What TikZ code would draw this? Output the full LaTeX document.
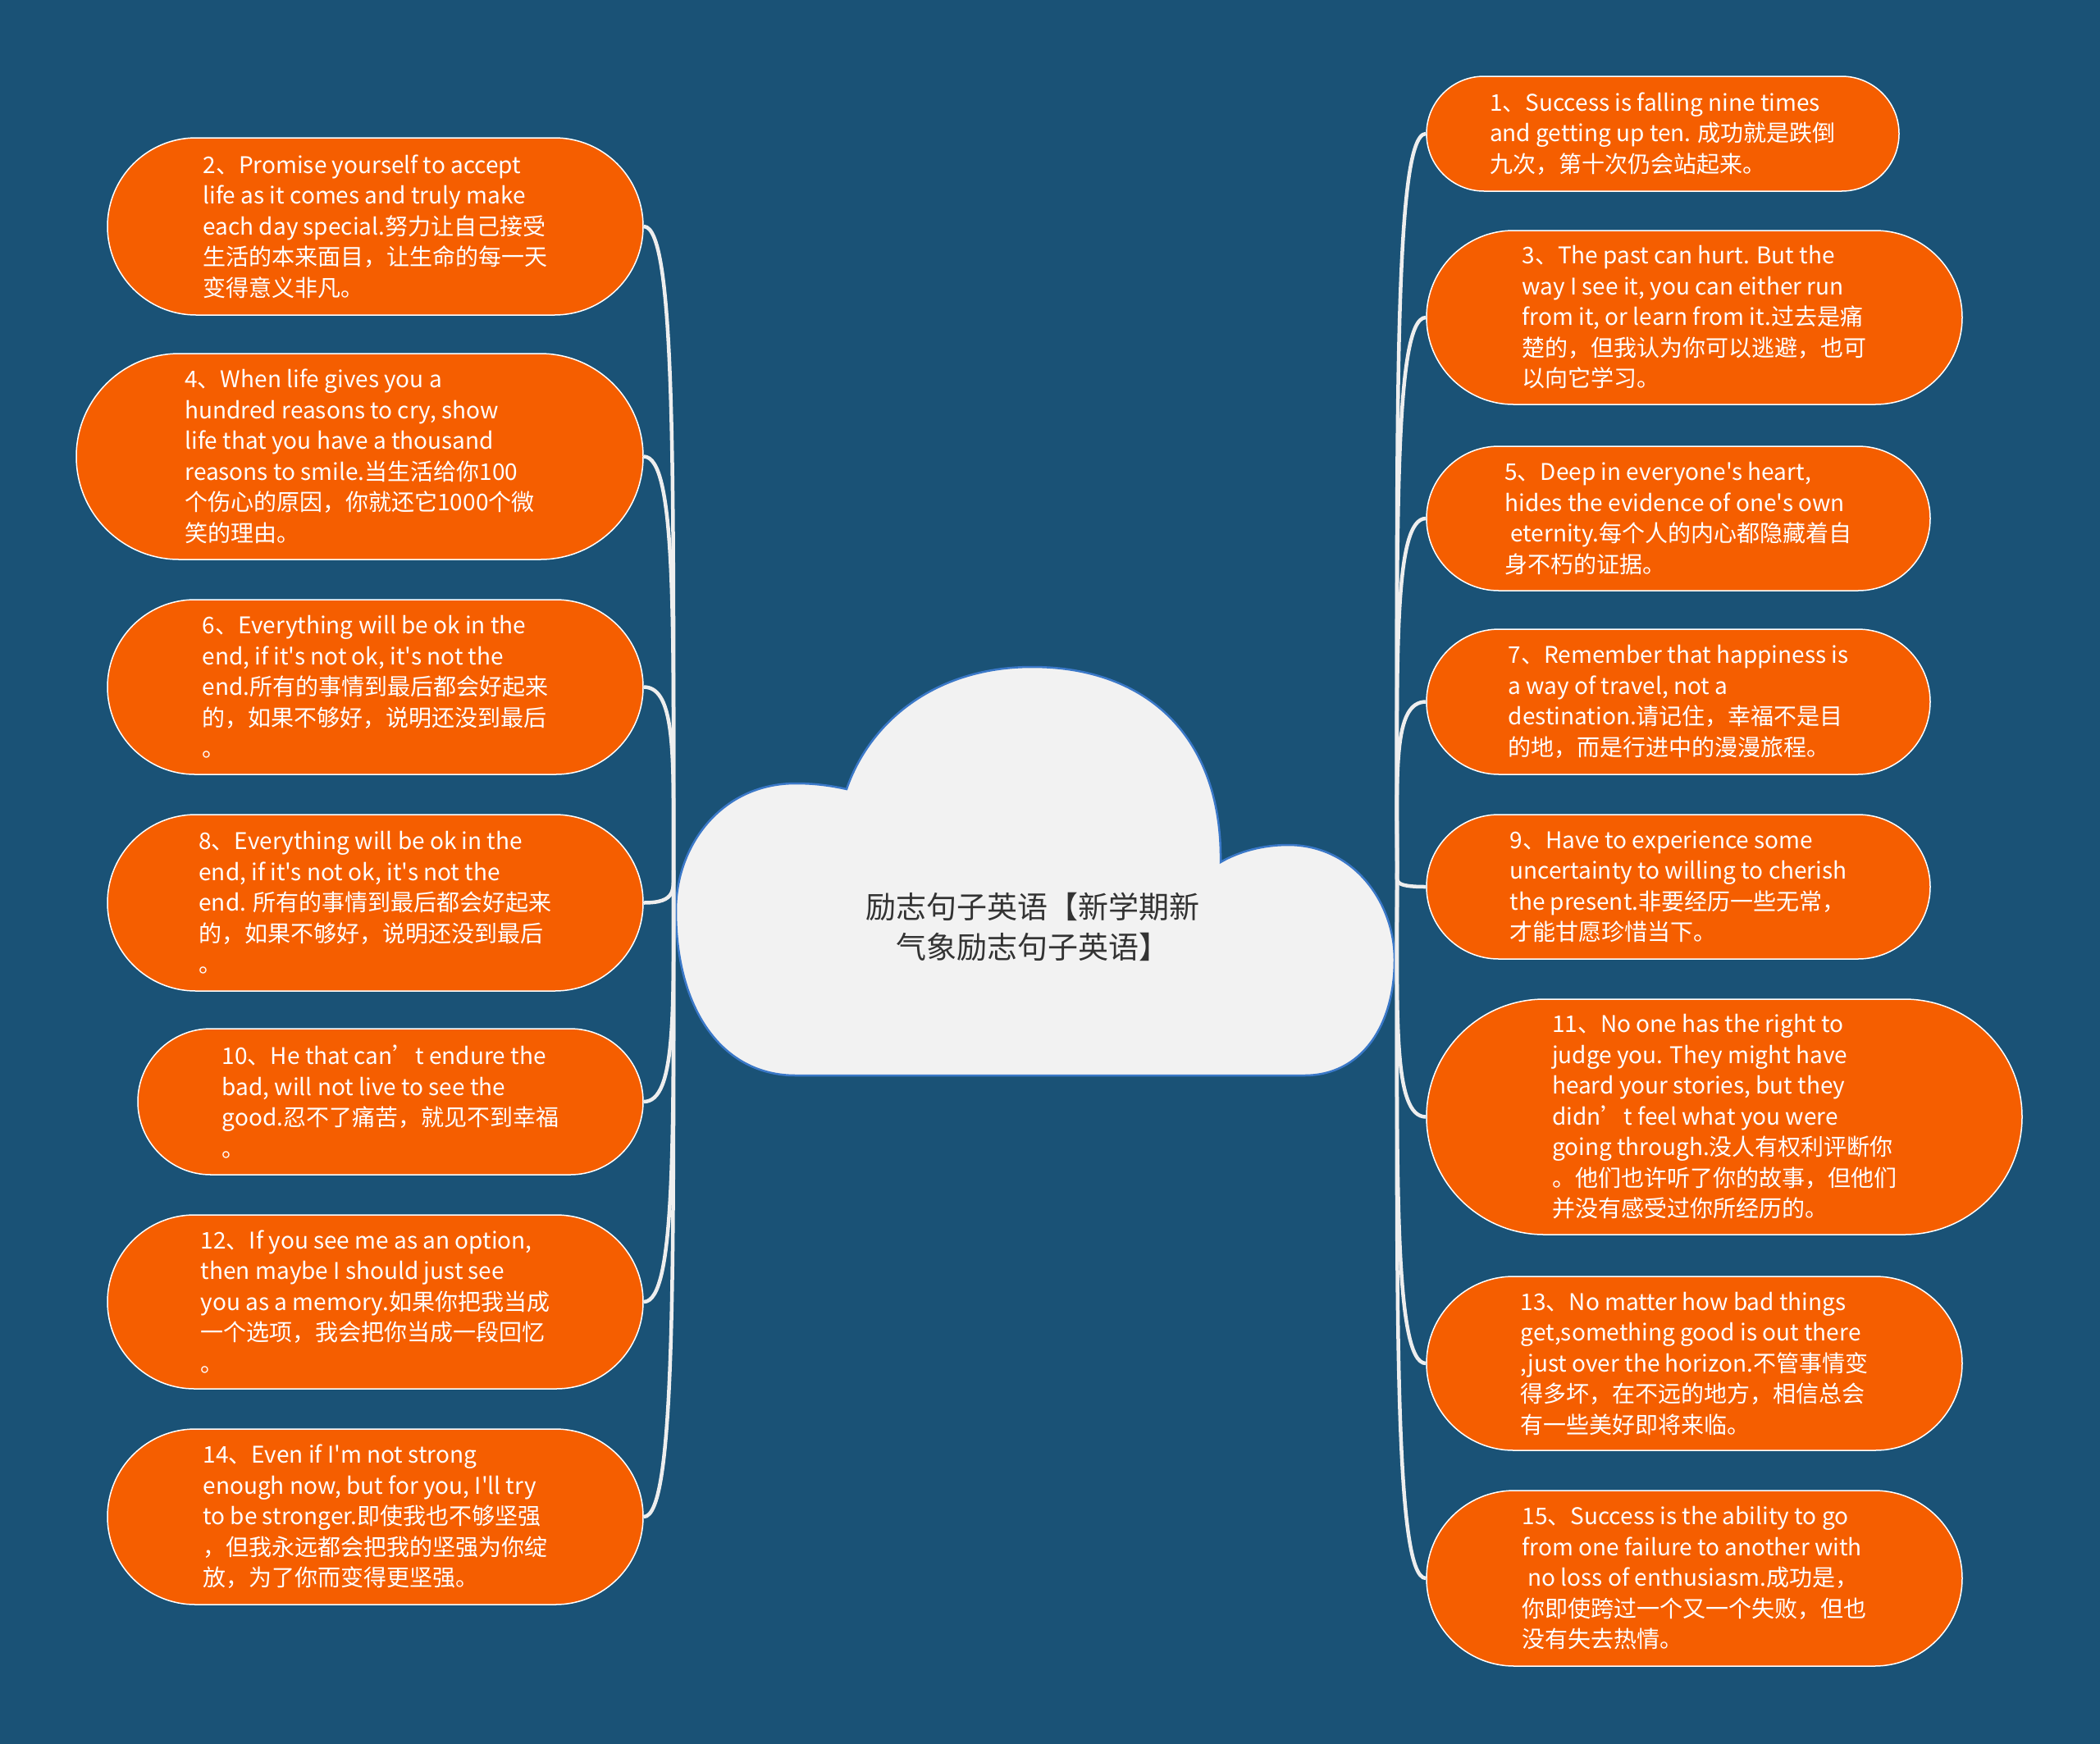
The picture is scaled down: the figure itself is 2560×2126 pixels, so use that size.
\documentclass[tikz,border=0pt]{standalone}
\usepackage{fontspec}
\setmainfont{Noto Sans CJK SC}[Ligatures=TeXOff]
\usepackage{tikz}
\usetikzlibrary{calc}
\definecolor{bg}{HTML}{1A5276}
\definecolor{leaf}{HTML}{F55E00}
\definecolor{cloud}{HTML}{F2F2F2}
\definecolor{rim}{HTML}{3A78C8}
\definecolor{link}{HTML}{EEEEEE}
\definecolor{ink}{HTML}{333333}

\begin{document}
\begin{tikzpicture}[x=1pt,y=-1pt,
  leafbox/.style={draw=white, line width=1.5pt, fill=leaf, text=white, align=left, inner sep=0pt, font=\fontsize{28}{37.5}\selectfont},
  linkline/.style={draw=link, line width=4.5pt}]
  \fill[bg] (0,0) rectangle (2560,2126);
  \useasboundingbox (0,0) rectangle (2560,2126);

  \filldraw[fill=cloud, draw=rim, line width=2.5pt] (970,1311) -- (1590,1311)
    .. controls (1660,1311) and (1700,1250) .. (1700,1170)
    .. controls (1700,1100) and (1650,1030) .. (1570,1030)
    .. controls (1540,1030) and (1510,1038) .. (1488,1051)
    .. controls (1490,900) and (1400,813) .. (1258,813)
    .. controls (1140,813) and (1060,880) .. (1032,962)
    .. controls (1010,957) and (990,955) .. (970,955)
    .. controls (880,955) and (824,1030) .. (824,1110)
    .. controls (824,1230) and (880,1311) .. (970,1311) -- cycle;
  \node[font=\fontsize{37}{49}\selectfont, text=ink, align=center] (title) at (1259,1130) {励志句子英语【新学期新\\气象励志句子英语】};
  \coordinate (hubL) at (821,1061);
  \coordinate (hubR) at (1703,1064);

  \foreach \nm/\cx/\cy/\w/\h/\txt in {
    l2/457.5/276/653/216/{2、Promise yourself to accept\\life as it comes and truly make\\each day special.努力让自己接受\\生活的本来面目，让生命的每一天\\变得意义非凡。},
    l4/438.5/556.5/691/251/{4、When life gives you a\\hundred reasons to cry, show\\life that you have a thousand\\reasons to smile.当生活给你100\\个伤心的原因，你就还它1000个微\\笑的理由。},
    l6/457.5/837.5/653/213/{6、Everything will be ok in the\\end, if it's not ok, it's not the\\end.所有的事情到最后都会好起来\\的，如果不够好，说明还没到最后\\。},
    l8/457.5/1100.5/653/215/{8、Everything will be ok in the\\end, if it's not ok, it's not the\\end. 所有的事情到最后都会好起来\\的，如果不够好，说明还没到最后\\。},
    l10/476/1343/616/178/{10、He that can’t endure the\\bad, will not live to see the\\good.忍不了痛苦，就见不到幸福\\。},
    l12/457.5/1587/653/212/{12、If you see me as an option,\\then maybe I should just see\\you as a memory.如果你把我当成\\一个选项，我会把你当成一段回忆\\。},
    l14/457.5/1849/653/214/{14、Even if I'm not strong\\enough now, but for you, I'll try\\to be stronger.即使我也不够坚强\\，但我永远都会把我的坚强为你绽\\放，为了你而变得更坚强。},
    r1/2027/163/576/140/{1、Success is falling nine times\\and getting up ten. 成功就是跌倒\\九次，第十次仍会站起来。},
    r3/2065.5/387/653/212/{3、The past can hurt. But the\\way I see it, you can either run\\from it, or learn from it.过去是痛\\楚的，但我认为你可以逃避，也可\\以向它学习。},
    r5/2046/632/614/176/{5、Deep in everyone's heart,\\hides the evidence of one's own\\\hspace*{7pt}eternity.每个人的内心都隐藏着自\\身不朽的证据。},
    r7/2046/855.5/614/177/{7、Remember that happiness is\\a way of travel, not a\\destination.请记住，幸福不是目\\的地，而是行进中的漫漫旅程。},
    r9/2046/1081/614/176/{9、Have to experience some\\uncertainty to willing to cherish\\the present.非要经历一些无常，\\才能甘愿珍惜当下。},
    r11/2102/1361.5/726/287/{11、No one has the right to\\judge you. They might have\\heard your stories, but they\\didn’t feel what you were\\going through.没人有权利评断你\\。他们也许听了你的故事，但他们\\并没有感受过你所经历的。},
    r13/2065.5/1662/653/212/{13、No matter how bad things\\get,something good is out there\\,just over the horizon.不管事情变\\得多坏，在不远的地方，相信总会\\有一些美好即将来临。},
    r15/2065.5/1924/653/214/{15、Success is the ability to go\\from one failure to another with\\\hspace*{7pt}no loss of enthusiasm.成功是，\\你即使跨过一个又一个失败，但也\\没有失去热情。}}
    \node[leafbox, minimum width=\w pt, minimum height=\h pt, rounded corners=\h*0.5pt] (\nm) at (\cx,\cy) {\txt};

  \foreach \nm in {l2,l4,l6,l8,l10,l12,l14}
    \draw[linkline] (hubL) .. controls ($(hubL)!0.6!(hubL |- \nm.east)$) and ($(\nm.east)+(40,0)$) .. (\nm.east);
  \foreach \nm in {r1,r3,r5,r7,r9,r11,r13,r15}
    \draw[linkline] (hubR) .. controls ($(hubR)!0.6!(hubR |- \nm.west)$) and ($(\nm.west)+(-40,0)$) .. (\nm.west);
\end{tikzpicture}
\end{document}
